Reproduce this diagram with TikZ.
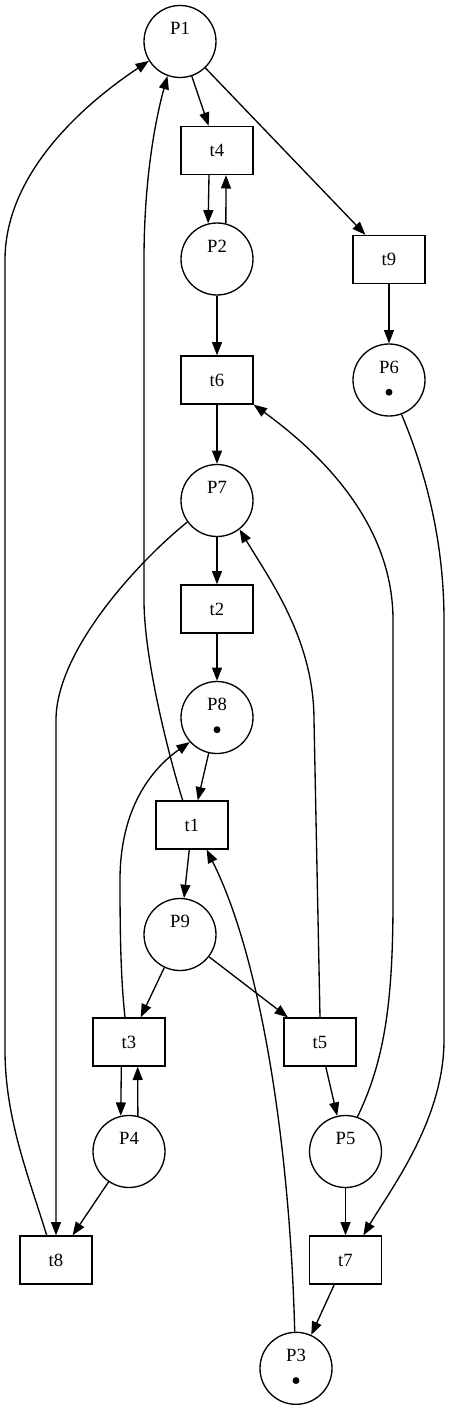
\documentclass[tikz,border=0pt]{standalone}
\usepackage{fontspec}
\setmainfont{Liberation Serif}
\usetikzlibrary{arrows.meta}
\newcommand{\tokdot}{\tikz[baseline=0pt]\fill (0,2.6pt) circle (2.6pt);}
\tikzset{
  place/.style={circle,draw,line width=1pt,minimum size=54pt,inner sep=0pt,align=center,font=\fontsize{14}{16.8}\selectfont},
  trans/.style={rectangle,draw,line width=1pt,minimum width=54pt,minimum height=36pt,inner sep=0pt,font=\fontsize{14}{16.8}\selectfont},
  link/.style={line width=1pt,-{Triangle[length=10pt,width=7.5pt]}}
}
\begin{document}
\begin{tikzpicture}[x=0.75pt,y=-0.75pt]
\useasboundingbox (0,0) rectangle (449,1409);
% places
\node[place] (P1) at (180,41.5) {\strut P1\\\strut};
\node[place] (P2) at (217,259) {\strut P2\\\strut};
\node[place] (P6) at (389,380) {\strut P6\\\strut\tokdot};
\node[place] (P7) at (217,500.5) {\strut P7\\\strut};
\node[place] (P8) at (217,717.5) {\strut P8\\\strut\tokdot};
\node[place] (P9) at (180,934.5) {\strut P9\\\strut};
\node[place] (P4) at (129,1151.5) {\strut P4\\\strut};
\node[place] (P5) at (345.5,1151.5) {\strut P5\\\strut};
\node[place] (P3) at (296,1368.3) {\strut P3\\\strut\tokdot};
% transitions
\node[trans] (t4) at (217,150.5) {t4};
\node[trans] (t9) at (389,259.5) {t9};
\node[trans] (t6) at (217,380) {t6};
\node[trans] (t2) at (217,609) {t2};
\node[trans] (t1) at (192,825) {t1};
\node[trans] (t3) at (129,1042) {t3};
\node[trans] (t5) at (320,1042) {t5};
\node[trans] (t8) at (56,1260) {t8};
\node[trans] (t7) at (345.5,1260) {t7};
% short arcs
\draw[link] (P1) -- (t4);
\draw[link] (P1) -- (t9);
\draw[link] ([xshift=-6pt]t4.south) -- (P2.104);
\draw[link] (P2.76) -- ([xshift=6.75pt]t4.south);
\draw[link] (P2) -- (t6);
\draw[link] (t9) -- (P6);
\draw[link] (t6) -- (P7);
\draw[link] (P7) -- (t2);
\draw[link] (t2) -- (P8);
\draw[link] (P8) -- (t1);
\draw[link] (t1) -- (P9);
\draw[link] (P9) -- (t3);
\draw[link] (P9) -- (t5);
\draw[link] ([xshift=-5.75pt]t3.south) -- (P4.103);
\draw[link] (P4.76) -- ([xshift=6.5pt]t3.south);
\draw[link] (t5) -- (P5);
\draw[link] (P4) -- (t8);
\draw[link] (P5) -- (t7);
\draw[link] (t7) -- (P3);
% long arcs
\draw[link] ([xshift=-7pt]t1.north) .. controls (170,760) and (144,660) .. (144,600) -- (144,260) .. controls (144,170) and (158,110) .. (P1.-110);
\draw[link] ([xshift=-7pt]t8.north) .. controls (30,1180) and (5,1120) .. (5,1050) -- (5,260) .. controls (5,170) and (90,100) .. (P1.-148);
\draw[link] (P7.-144) .. controls (140,560) and (56,650) .. (56,720) -- (t8.north);
\draw[link] (t5.north) -- (314,720) .. controls (314,640) and (270,580) .. (P7.-52);
\draw[link] (P5.71) .. controls (385,1060) and (393,1000) .. (393,900) -- (393,620) .. controls (393,530) and (330,460) .. (t6.south east);
\draw[link] (P6.-70) .. controls (425,470) and (444,540) .. (444,620) -- (444,1040) .. controls (444,1120) and (390,1190) .. ([xshift=13.4pt]t7.north);
\draw[link] (P3.92) .. controls (290,1150) and (262,960) .. ([xshift=11pt]t1.south);
\draw[link] ([xshift=-3pt]t3.north) .. controls (121,980) and (120,940) .. (120,880) .. controls (120,810) and (150,770) .. (P8.-138);
\end{tikzpicture}
\end{document}
